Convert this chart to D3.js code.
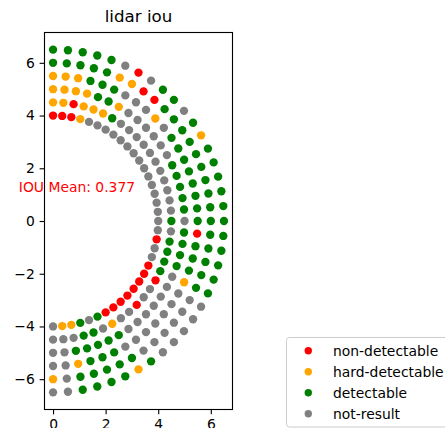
<!DOCTYPE html>
<meta charset="utf-8">
<style>
body { margin: 0; background: #fff; }
#thevis text { font-family: "DejaVu Sans", sans-serif; }
</style>

<svg id="thevis" width="445" height="428"></svg>
<script src="https://cdn.jsdelivr.net/npm/d3@7/dist/d3.min.js"></script>

<script>
// ring radii and the angle of every point on a ring (degrees from the top, clockwise)
var radii = [4, 4.5, 5, 5.5, 6, 6.5];
var anglesDeg = [0, 5, 10, 15, 20, 25, 30, 35, 40, 45, 50, 55, 60, 65, 70, 75, 80, 85, 90,
                 95, 100, 105, 110, 115, 120, 125, 130, 135, 140, 145, 150, 155, 160, 165, 170, 175, 180];

// status of each point, one letter per angle: R non-detectable, O hard-detectable, G detectable, X not-result
var ring40 = "RRROXXXXXXXXXXXXXXXXRXXRRRRRRRRGXGOOX";
var ring45 = "OOROOOGXXXXXXXXXXXGXGGGGRXXRXXOXGGXXX";
var ring50 = "OOOOGGOXXXXXXGGGGGXGGGGXXXXXXXGGGGGXX";
var ring55 = "OOOGGGXXXOXGGGGGGGGRGGGOXXXXXXXGGGOXX";
var ring60 = "GGGGGOORRGGGGGGGGGGGGGGGXXXXXXGGGGGXO";
var ring65 = "GGGGGXRXGGXGOGGGGGGGGGGGXXXXXGOGGGGXX";
var rings = [ring40, ring45, ring50, ring55, ring60, ring65];

var categories = ["non-detectable", "hard-detectable", "detectable", "not-result"];
var catCodes = ["R", "O", "G", "X"];
var catColors = ["red", "orange", "green", "gray"];

var xTicks = [0, 2, 4, 6];
var yTicks = [-6, -4, -2, 0, 2, 4, 6];
var iouMean = 0.377;

var svg = d3.select("svg");
var pt = 100 / 72; // matplotlib points -> px

var x = d3.scaleLinear().domain([-0.325, 6.825]).range([44.5, 232.5]);
var y = d3.scaleLinear().domain([-7.15, 7.15]).range([409.5, 32.5]);
var color = d3.scaleOrdinal().domain(catCodes).range(catColors);

// build the points from the arrays
var points = [];
rings.forEach(function(s, ri) {
  anglesDeg.forEach(function(a, k) {
    var t = a * Math.PI / 180;
    points.push({
      code: s[k],
      x: radii[ri] * Math.sin(t),
      y: radii[ri] * Math.cos(t)
    });
  });
});

// one layer per category, drawn in legend order
var dots = svg.append("g");
catCodes.forEach(function(c) {
  dots.append("g").selectAll("circle")
    .data(points.filter(function(d) { return d.code == c; }))
    .enter().append("circle")
      .attr("cx", function(d) { return x(d.x); })
      .attr("cy", function(d) { return y(d.y); })
      .attr("r", 4.17)
      .attr("fill", color(c));
});

// axes
var xAxis = svg.append("g")
    .attr("transform", "translate(0," + y.range()[0] + ")")
    .call(d3.axisBottom(x).tickValues(xTicks).tickSize(3.5 * pt).tickPadding(3.5 * pt).tickSizeOuter(0));
var yAxis = svg.append("g")
    .attr("transform", "translate(" + x.range()[0] + ",0)")
    .call(d3.axisLeft(y).tickValues(yTicks).tickSize(3.5 * pt).tickPadding(3.5 * pt).tickSizeOuter(0));
[xAxis, yAxis].forEach(function(a) {
  a.select(".domain").remove();
  a.selectAll("line").attr("stroke", "#000").attr("stroke-width", 0.8 * pt);
  a.selectAll("text").attr("font-size", 10 * pt).attr("fill", "#000")
    .attr("font-family", "DejaVu Sans, sans-serif");
});

svg.append("rect") // axes frame
    .attr("x", x.range()[0])
    .attr("y", y.range()[1])
    .attr("width", x.range()[1] - x.range()[0])
    .attr("height", y.range()[0] - y.range()[1])
    .attr("fill", "none")
    .attr("stroke", "#000")
    .attr("stroke-width", 0.8 * pt);

svg.append("text") // title
    .attr("x", (x.range()[0] + x.range()[1]) / 2)
    .attr("y", 22)
    .attr("text-anchor", "middle")
    .attr("font-size", 12 * pt)
    .attr("fill", "#000")
    .text("lidar iou");

svg.append("text") // mean label
    .attr("x", x(-1.3))
    .attr("y", y(1.1))
    .attr("font-size", 10 * pt)
    .attr("fill", "red")
    .text("IOU Mean: " + iouMean);

// legend
var legend = svg.append("g");
legend.append("rect")
    .attr("x", 286.5)
    .attr("y", 337.5)
    .attr("width", 175)
    .attr("height", 89.5)
    .attr("rx", 3)
    .attr("fill", "#fff")
    .attr("fill-opacity", 0.8)
    .attr("stroke", "#cccccc")
    .attr("stroke-width", 1);

var item = legend.selectAll("g.item")
    .data(categories)
  .enter().append("g")
    .attr("class", "item")
    .attr("transform", function(d, i) { return "translate(0," + (350.7 + i * 21) + ")"; });

item.append("circle")
    .attr("cx", 308.3)
    .attr("r", 3.7)
    .attr("fill", function(d, i) { return catColors[i]; });

item.append("text")
    .attr("x", 333)
    .attr("dy", "0.35em")
    .attr("font-size", 10 * pt)
    .attr("fill", "#000")
    .text(function(d) { return d; });
</script>
